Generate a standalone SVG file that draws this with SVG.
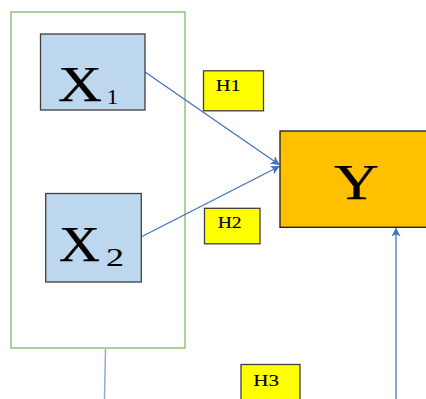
<svg xmlns="http://www.w3.org/2000/svg" width="426" height="399" viewBox="0 0 426 399">
<defs>
<style>
.box{stroke:#3f3f3f;stroke-width:1.3}
.x{fill:#BDD7EE}
.h{fill:#FFFF00}
.t{font-family:"Liberation Serif","Times New Roman",serif;fill:#000;stroke:#000;stroke-width:0.25}
.s{stroke-width:0.1}
.con{stroke:#4472C4;stroke-width:1.3;fill:none}
</style>
<marker id="ah" viewBox="0 0 10 10" refX="9" refY="5" markerWidth="9" markerHeight="9" markerUnits="userSpaceOnUse" orient="auto">
<path d="M0,0 L10,5 L0,10 L2.5,5 Z" fill="#4472C4"/>
</marker>
</defs>
<rect width="426" height="399" fill="#fff"/>
<g id="group-frame">
<rect x="11" y="12" width="174" height="336" fill="none" stroke="#82B866" stroke-width="1.3"/>
</g>
<g id="connectors">
<line class="con" x1="145" y1="72" x2="279" y2="164.5" marker-end="url(#ah)"/>
<line class="con" x1="141" y1="237" x2="279" y2="166.5" marker-end="url(#ah)"/>
<line class="con" x1="396" y1="399" x2="396" y2="228.5" marker-end="url(#ah)"/>
<line x1="105.5" y1="349" x2="104.5" y2="399" stroke="#8FAADC" stroke-width="1.5"/>
</g>
<g id="node-x1">
<rect class="box x" x="40.5" y="34" width="104.5" height="76"/>
<text class="t" x="58" y="101" font-size="50" textLength="44" lengthAdjust="spacingAndGlyphs">X</text>
<text class="t s" x="107" y="104" font-size="22" textLength="11" lengthAdjust="spacingAndGlyphs">1</text>
</g>
<g id="node-x2">
<rect class="box x" x="45.7" y="193.5" width="95.6" height="88.5"/>
<text class="t" x="59" y="261" font-size="50" textLength="41" lengthAdjust="spacingAndGlyphs">X</text>
<text class="t s" x="106" y="266" font-size="26" textLength="18" lengthAdjust="spacingAndGlyphs">2</text>
</g>
<g id="node-y">
<rect x="280" y="131" width="150" height="96.3" fill="#FFC000" stroke="#1a1a1a" stroke-width="1.3"/>
<text class="t" x="334" y="199" font-size="50" textLength="45" lengthAdjust="spacingAndGlyphs">Y</text>
</g>
<g id="node-h1">
<rect class="box h" x="203.5" y="70.8" width="60" height="40"/>
<text class="t s" x="215.7" y="91" font-size="16" textLength="25" lengthAdjust="spacingAndGlyphs">H1</text>
</g>
<g id="node-h2">
<rect class="box h" x="204.5" y="208.3" width="55.5" height="35.5"/>
<text class="t s" x="217.7" y="227.7" font-size="16" textLength="24" lengthAdjust="spacingAndGlyphs">H2</text>
</g>
<g id="node-h3">
<rect class="box h" x="241" y="364.5" width="59" height="40"/>
<text class="t s" x="253.3" y="386" font-size="16" textLength="25.7" lengthAdjust="spacingAndGlyphs">H3</text>
</g>
</svg>
